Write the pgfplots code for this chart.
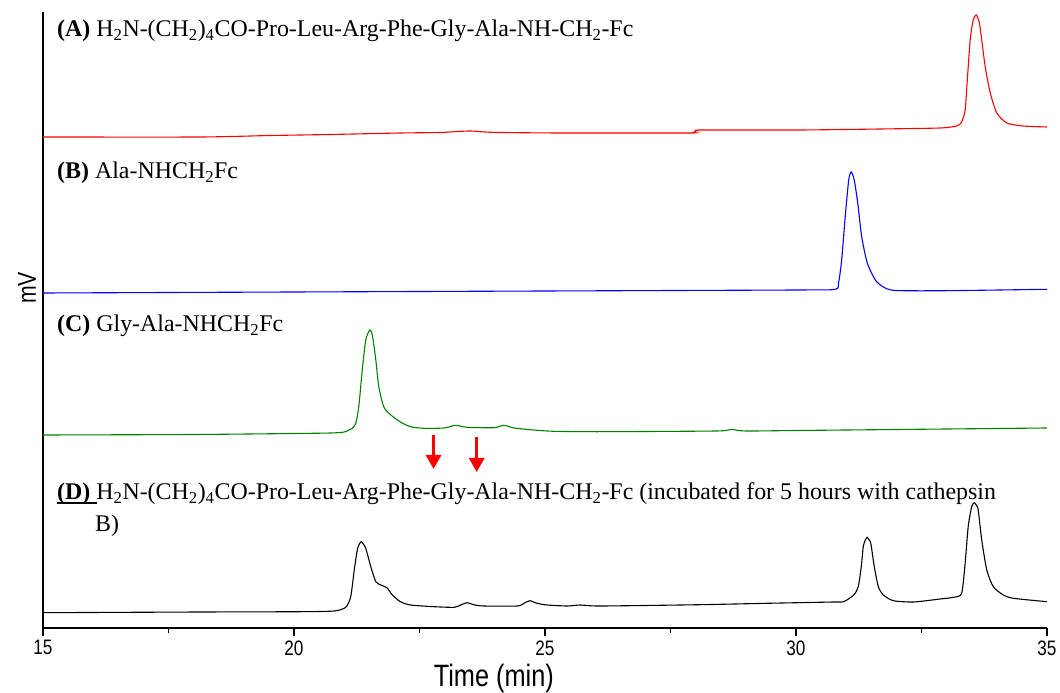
\documentclass[border=0pt]{standalone}
\usepackage{fontspec}
\setmainfont{Liberation Serif}
\setsansfont{Liberation Sans}
\newfontfamily\narrowsans[FakeStretch=0.82]{Liberation Sans}
\usepackage{pgfplots}
\pgfplotsset{compat=1.18}
\usetikzlibrary{arrows.meta}
\definecolor{tracegreen}{RGB}{0,128,0}
\begin{document}
\begin{tikzpicture}
\path[use as bounding box] (-43bp,-65bp) rectangle (1017bp,628bp);
\begin{axis}[
  at={(0,0)}, anchor=south west,
  scale only axis, width=1004bp, height=616bp,
  xmin=15, xmax=35, ymin=-1, ymax=615,
  axis x line=bottom, axis y line=left,
  axis line style={-, line width=1.3bp},
  xtick={15,20,25,30,35},
  minor xtick={17.5,22.5,27.5,32.5},
  ytick=\empty,
  tick align=outside,
  major tick length=8bp, minor tick length=5bp,
  every tick/.style={black, line width=1.1bp},
  xticklabel style={font=\narrowsans\fontsize{21}{21}\selectfont, yshift=-1bp},
  /pgf/number format/assume math mode=true,
  xlabel={Time (min)},
  xlabel style={font=\narrowsans\fontsize{31}{31}\selectfont, at={(axis description cs:0.449,0)}, anchor=base, yshift=-58bp, inner sep=0pt},
  ylabel={mV},
  ylabel style={font=\narrowsans\fontsize{26}{26}\selectfont, at={(axis description cs:-0.016,0.552)}, anchor=center},
  clip=false,
  every axis plot/.append style={line width=1.1bp, smooth, tension=0.4},
]
% (A) red
\addplot[red] coordinates {
(15.00,490) (18.14,490) (19.54,491.5) (20.73,492.5) (22.12,494) (22.92,494.5) (23.25,495.5) (23.52,496) (23.8,495) (24.11,494.5) (25.31,494) (27.85,494) (27.95,494.5) (28.03,496.5) (28.15,497) (30.08,497) (31.68,498) (32.87,499) (33.20,501) (33.30,505) (33.37,517) (33.41,545) (33.47,587) (33.53,607) (33.59,612) (33.65,605) (33.70,587) (33.77,560) (33.87,534) (34.00,514) (34.20,504) (34.52,501) (35.00,500)
};
% (B) blue
\addplot[blue] coordinates {
(15,334) (20,335) (25,336) (30,337) (30.78,337.7) (30.85,345) (30.91,367) (30.98,410) (31.05,447) (31.10,455) (31.16,447) (31.23,424) (31.31,390) (31.42,364) (31.58,347) (31.74,340) (31.98,336.5) (33.00,336.3) (35.00,337.7)
};
% (C) green
\addplot[tracegreen] coordinates {
(15.00,192) (18.00,192.5) (20.00,193.5) (20.73,194) (21.00,195) (21.16,198.7) (21.23,203.7) (21.29,220) (21.36,257) (21.43,287) (21.51,297) (21.56,292) (21.63,267) (21.69,240) (21.79,220) (21.93,212) (22.12,205) (22.32,200.3) (22.59,198.7) (22.99,199) (23.22,201.7) (23.45,199.7) (23.98,199.3) (24.18,201.7) (24.38,199) (24.78,197) (25.18,195.7) (26.10,195.3) (28.40,196) (28.70,197.5) (29.00,196) (30.00,196.5) (32.00,197.5) (35.00,199)
};
% (D) black
\addplot[black] coordinates {
(15.00,14.3) (18.14,15) (20.13,15.3) (20.80,16) (21.03,19.7) (21.13,30.3) (21.20,57) (21.26,77) (21.30,83) (21.34,85.3) (21.38,83) (21.43,78.7) (21.53,60.3) (21.63,45.3) (21.73,42) (21.85,39.3) (21.96,32) (22.12,25.3) (22.32,22) (22.79,20.3) (23.19,19.7) (23.32,22) (23.45,24.3) (23.58,22.3) (23.78,21) (24.45,21) (24.58,23.7) (24.70,26.3) (24.84,23.7) (25.04,22) (25.44,21) (25.71,22) (26.10,21) (28.09,22.3) (29.42,23.7) (30.75,25) (30.95,25.3) (31.15,32) (31.24,40.3) (31.30,60.3) (31.34,80.3) (31.38,87) (31.42,89.7) (31.45,87.5) (31.49,83.7) (31.56,60.3) (31.64,40.3) (31.74,32) (31.94,26.3) (32.34,25) (32.87,28) (33.14,29.7) (33.30,33.7) (33.37,64) (33.43,100.3) (33.50,120.3) (33.55,124.3) (33.59,122) (33.63,117) (33.70,87) (33.80,57) (33.93,40.3) (34.13,32) (34.33,28.7) (35.00,25.3)
};
\node[anchor=base west, inner sep=0pt, font=\fontsize{24}{28}\selectfont] at (axis cs:15.279,590) {\textbf{(A)} H\textsubscript{2}N-(CH\textsubscript{2})\textsubscript{4}CO-Pro-Leu-Arg-Phe-Gly-Ala-NH-CH\textsubscript{2}-Fc};
\node[anchor=base west, inner sep=0pt, font=\fontsize{24}{28}\selectfont] at (axis cs:15.279,448) {\textbf{(B)} Ala-NHCH\textsubscript{2}Fc};
\node[anchor=base west, inner sep=0pt, font=\fontsize{24}{28}\selectfont] at (axis cs:15.279,295) {\textbf{(C)} Gly-Ala-NHCH\textsubscript{2}Fc};
\node[anchor=base west, inner sep=0pt, font=\fontsize{24}{28}\selectfont] at (axis cs:15.279,127) {\makebox[0pt][l]{\rule[-4bp]{40bp}{2.2bp}}\textbf{(D)}\ H\textsubscript{2}N-(CH\textsubscript{2})\textsubscript{4}CO-Pro-Leu-Arg-Phe-Gly-Ala-NH-CH\textsubscript{2}-Fc (incubated for 5 hours with cathepsin};
\node[anchor=base west, inner sep=0pt, font=\fontsize{24}{28}\selectfont] at (axis cs:16.036,95) {B)};
\draw[red, line width=3bp, -{Triangle[width=15bp,length=14bp]}] (axis cs:22.78,192) -- (axis cs:22.78,158);
\draw[red, line width=3bp, -{Triangle[width=15bp,length=14bp]}] (axis cs:23.64,190) -- (axis cs:23.64,155);
\end{axis}
\end{tikzpicture}
\end{document}
